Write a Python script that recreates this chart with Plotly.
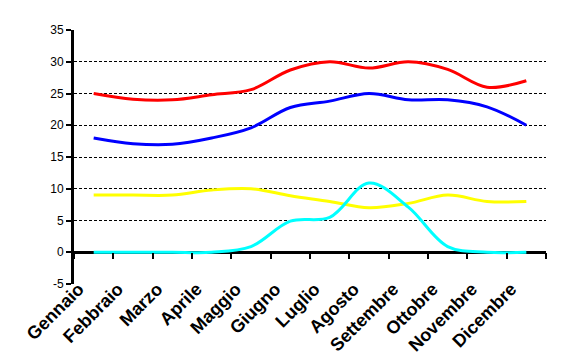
import plotly.graph_objects as go

months = ["Gennaio", "Febbraio", "Marzo", "Aprile", "Maggio", "Giugno",
          "Luglio", "Agosto", "Settembre", "Ottobre", "Novembre", "Dicembre"]
temp_max = [25, 24.1, 24.0, 24.8, 25.6, 28.7, 30, 29, 30, 28.8, 26, 27]
temp_min = [18, 17.1, 17.0, 18, 19.6, 22.8, 23.8, 25, 24, 24, 22.9, 20]
sole = [9, 9, 9, 9.8, 10, 8.9, 8, 7, 7.7, 9, 8, 8]
mare = [0, 0, 0, 0, 0.9, 4.9, 5.5, 10.9, 7.1, 0.9, 0, 0]

y_ticks = [-5, 0, 5, 10, 15, 20, 25, 30, 35]
y_tick_labels = ["-5", "0", "5", "10", "15", "20", "25", "30", "35"]

series = [
    (temp_max, "#FF0000"),
    (temp_min, "#0000FF"),
    (sole, "#FFFF00"),
    (mare, "#00FFFF"),
]

fig = go.Figure()
for vals, col in series:
    fig.add_trace(go.Scatter(
        x=months, y=vals, mode="lines",
        line=dict(color=col, width=3, shape="spline", smoothing=1),
        showlegend=False, hoverinfo="skip", xaxis="x", yaxis="y"))

# invisible trace carrying the category labels at the bottom
fig.add_trace(go.Scatter(
    x=months, y=temp_max, mode="lines", opacity=0,
    line=dict(width=0), showlegend=False, hoverinfo="skip",
    xaxis="x2", yaxis="y"))

font_family = "Arial, Liberation Sans, sans-serif"

# the page body has an 8px margin, so the figure is sized/offset to compensate
fig.update_layout(
    width=555, height=354,
    margin=dict(l=66, r=17, t=22, b=78),
    paper_bgcolor="white", plot_bgcolor="white",
    showlegend=False,
    xaxis=dict(
        type="category", categoryorder="array", categoryarray=months,
        range=[-0.5, 11.5], domain=[0, 1],
        anchor="free", position=0.125, automargin=False,
        showline=False, showgrid=False, zeroline=False,
        ticks="outside", ticklen=6, tickwidth=2, tickcolor="black",
        tickson="boundaries", showticklabels=False,
    ),
    xaxis2=dict(
        type="category", categoryorder="array", categoryarray=months,
        range=[-0.5, 11.5], overlaying="x", anchor="y", side="bottom",
        automargin=False,
        showline=False, showgrid=False, zeroline=False, ticks="",
        showticklabels=True, tickangle=-45,
        ticklabelstandoff=-10, ticklabelshift=-15,
        tickfont=dict(family=font_family, size=18, color="black", weight="bold"),
    ),
    yaxis=dict(
        range=[-5, 35], tickvals=y_ticks, ticktext=y_tick_labels, domain=[0, 1],
        automargin=False,
        showline=True, linecolor="black", linewidth=3,
        ticks="outside", ticklen=5, tickwidth=2, tickcolor="black",
        showgrid=True, gridcolor="black", gridwidth=1, griddash="3px,2px",
        zeroline=True, zerolinecolor="black", zerolinewidth=3,
        tickfont=dict(family=font_family, size=12, color="black"),
    ),
)

fig.write_html("out.html")
